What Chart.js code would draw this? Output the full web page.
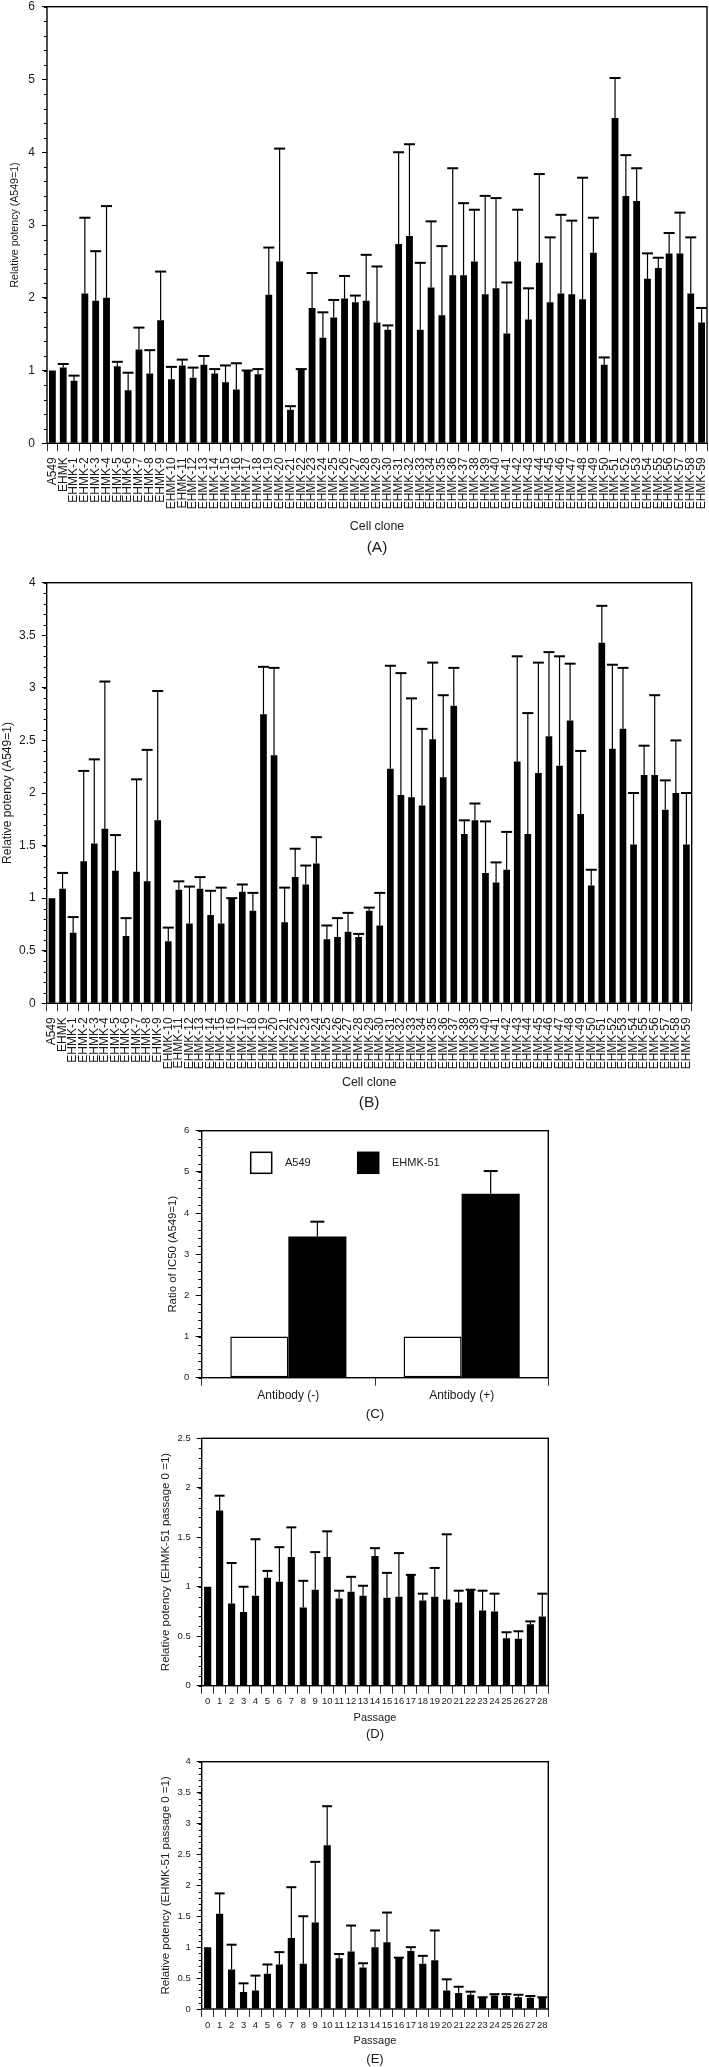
<!DOCTYPE html>
<html>
<head>
<meta charset="utf-8">
<script src="https://cdn.jsdelivr.net/npm/chart.js@4.4.1/dist/chart.umd.min.js"></script>
<style>
  body { margin: 0; background: #fff; }
  #page { position: relative; width: 709px; height: 2067px; overflow: hidden; }
  canvas { position: absolute; left: 0; }
</style>
</head>
<body>
<div id="page">
  <canvas id="chartA" width="709" height="560" style="top:0px"></canvas>
  <canvas id="chartB" width="709" height="555" style="top:560px"></canvas>
  <canvas id="chartC" width="709" height="310" style="top:1115px"></canvas>
  <canvas id="chartD" width="709" height="318" style="top:1425px"></canvas>
  <canvas id="chartE" width="709" height="324" style="top:1743px"></canvas>
</div>
<script>
// ---- data ----
const cloneLabels = ['A549', 'EHMK', ...Array.from({ length: 59 }, (_, i) => 'EHMK-' + (i + 1))];
const passageLabels = Array.from({ length: 29 }, (_, i) => String(i));

// (A) relative potency, mean and top of error bar
const aValues = [
  1.00, 1.04, 0.86, 2.06, 1.96, 2.00, 1.06, 0.73, 1.29, 0.96,
  1.69, 0.88, 1.07, 0.90, 1.08, 0.96, 0.84, 0.74, 1.00, 0.95,
  2.04, 2.50, 0.46, 1.02, 1.86, 1.45, 1.73, 1.99, 1.94, 1.96,
  1.66, 1.56, 2.74, 2.85, 1.56, 2.14, 1.76, 2.31, 2.31, 2.50,
  2.05, 2.13, 1.51, 2.50, 1.70, 2.48, 1.94, 2.06, 2.05, 1.98,
  2.62, 1.08, 4.47, 3.40, 3.33, 2.26, 2.41, 2.61, 2.61, 2.06,
  1.66
];
const aUpper = [
  null, 1.09, 0.93, 3.10, 2.64, 3.26, 1.12, 0.97, 1.59, 1.28,
  2.36, 1.05, 1.15, 1.04, 1.20, 1.02, 1.07, 1.10, 1.00, 1.02,
  2.69, 4.05, 0.51, 1.02, 2.34, 1.80, 1.97, 2.30, 2.03, 2.59,
  2.43, 1.62, 4.00, 4.11, 2.48, 3.05, 2.71, 3.78, 3.30, 3.21,
  3.40, 3.37, 2.21, 3.21, 2.13, 3.70, 2.83, 3.14, 3.06, 3.65,
  3.10, 1.18, 5.02, 3.96, 3.78, 2.61, 2.55, 2.89, 3.17, 2.83,
  1.86
];

// (B)
const bValues = [
  1.00, 1.09, 0.67, 1.35, 1.52, 1.66, 1.26, 0.64, 1.25, 1.16,
  1.74, 0.59, 1.08, 0.76, 1.09, 0.84, 0.76, 1.00, 1.06, 0.88,
  2.75, 2.36, 0.77, 1.20, 1.13, 1.33, 0.61, 0.63, 0.68, 0.63,
  0.88, 0.74, 2.23, 1.98, 1.96, 1.88, 2.51, 2.15, 2.83, 1.61,
  1.74, 1.24, 1.15, 1.27, 2.30, 1.61, 2.19, 2.54, 2.26, 2.69,
  1.80, 1.12, 3.43, 2.42, 2.61, 1.51, 2.17, 2.17, 1.84, 2.00,
  1.51
];
const bUpper = [
  null, 1.24, 0.82, 2.21, 2.32, 3.06, 1.60, 0.81, 2.13, 2.41,
  2.97, 0.72, 1.16, 1.11, 1.20, 1.07, 1.10, 1.00, 1.13, 1.05,
  3.20, 3.19, 1.10, 1.47, 1.31, 1.58, 0.74, 0.81, 0.86, 0.66,
  0.91, 1.05, 3.21, 3.14, 2.90, 2.61, 3.24, 2.93, 3.19, 1.74,
  1.90, 1.73, 1.34, 1.63, 3.30, 2.76, 3.24, 3.34, 3.30, 3.23,
  2.40, 1.27, 3.78, 3.22, 3.19, 2.00, 2.45, 2.93, 2.12, 2.50,
  2.00
];

// (C)
const cCategories = ['Antibody (-)', 'Antibody (+)'];
const cA549 = [1, 1];
const cEHMK51 = [3.43, 4.47];
const cEHMK51Upper = [3.79, 5.02];

// (D)
const dValues = [
  1.00, 1.77, 0.83, 0.745, 0.91, 1.09, 1.05, 1.30, 0.79, 0.97,
  1.30, 0.88, 0.95, 0.91, 1.31, 0.89, 0.90, 1.12, 0.86, 0.90,
  0.87, 0.84, 0.97, 0.76, 0.75, 0.48, 0.475, 0.62, 0.70
];
const dUpper = [
  null, 1.92, 1.24, 1.00, 1.48, 1.16, 1.40, 1.60, 1.06, 1.35,
  1.56, 0.96, 1.10, 1.01, 1.39, 1.14, 1.34, 1.12, 0.93, 1.19,
  1.53, 0.96, 0.97, 0.96, 0.93, 0.54, 0.55, 0.65, 0.93
];

// (E)
const eValues = [
  1.00, 1.54, 0.64, 0.275, 0.30, 0.57, 0.72, 1.15, 0.73, 1.40,
  2.65, 0.82, 0.93, 0.67, 1.00, 1.08, 0.83, 0.94, 0.73, 0.79,
  0.30, 0.26, 0.23, 0.18, 0.22, 0.21, 0.19, 0.18, 0.19
];
const eUpper = [
  null, 1.87, 1.04, 0.415, 0.54, 0.72, 0.92, 1.97, 1.50, 2.38,
  3.28, 0.89, 1.35, 0.74, 1.27, 1.56, 0.83, 1.00, 0.86, 1.27,
  0.48, 0.36, 0.28, 0.19, 0.24, 0.24, 0.23, 0.21, 0.19
];

// ---- fonts ----
const SANS = "'Liberation Sans', Arial, Helvetica, sans-serif";
const INK = '#1a1a1a';

Chart.defaults.font.family = SANS;
Chart.defaults.color = INK;

// ---- plugins ----
const minorTicks = {
  id: 'minorTicks',
  afterDraw(chart, args, opts) {
    if (!opts.step) return;
    const y = chart.scales.y;
    const ctx = chart.ctx;
    ctx.save();
    ctx.strokeStyle = '#000';
    ctx.lineWidth = 1;
    const n = Math.round((y.max - y.min) / opts.step);
    for (let k = 0; k <= n; k++) {
      const py = Math.round(y.getPixelForValue(y.min + k * opts.step)) + 0.5;
      ctx.beginPath();
      ctx.moveTo(y.right - opts.length, py);
      ctx.lineTo(y.right, py);
      ctx.stroke();
    }
    ctx.restore();
  }
};

const errorBars = {
  id: 'errorBars',
  afterDatasetsDraw(chart, args, opts) {
    const ctx = chart.ctx;
    chart.data.datasets.forEach((ds, di) => {
      if (!ds.upper) return;
      const meta = chart.getDatasetMeta(di);
      const yScale = chart.scales[meta.yAxisID];
      ctx.save();
      ctx.strokeStyle = '#000';
      meta.data.forEach((bar, i) => {
        const hi = ds.upper[i];
        if (hi == null) return;
        const yTop = yScale.getPixelForValue(ds.data[i]);
        const yHi = yScale.getPixelForValue(hi);
        if (hi > ds.data[i]) {
          ctx.lineWidth = opts.lineWidth;
          ctx.beginPath();
          ctx.moveTo(bar.x, yTop);
          ctx.lineTo(bar.x, yHi);
          ctx.stroke();
        }
        ctx.lineWidth = opts.capLineWidth;
        ctx.beginPath();
        ctx.moveTo(bar.x - opts.capWidth / 2, yHi);
        ctx.lineTo(bar.x + opts.capWidth / 2, yHi);
        ctx.stroke();
      });
      ctx.restore();
    });
  }
};

const frame = {
  id: 'frame',
  afterDatasetsDraw(chart, args, opts) {
    const { ctx, chartArea: a } = chart;
    ctx.save();
    ctx.strokeStyle = '#000';
    ctx.lineWidth = opts.lineWidth || 1.4;
    ctx.strokeRect(a.left, a.top, a.right - a.left, a.bottom - a.top);
    ctx.restore();
  }
};

const panelLabel = {
  id: 'panelLabel',
  afterDraw(chart, args, opts) {
    if (!opts.text) return;
    const { ctx, chartArea: a } = chart;
    ctx.save();
    ctx.font = opts.font;
    ctx.fillStyle = INK;
    ctx.textAlign = 'center';
    ctx.textBaseline = 'middle';
    ctx.fillText(opts.text, (a.left + a.right) / 2, chart.height - opts.fromBottom);
    ctx.restore();
  }
};

// legend drawn inside the plot area, as in panel C
const insideLegend = {
  id: 'insideLegend',
  afterDraw(chart, args, opts) {
    const { ctx, chartArea: a } = chart;
    ctx.save();
    ctx.font = opts.font;
    ctx.textBaseline = 'middle';
    chart.data.datasets.forEach((ds, i) => {
      const x = a.left + opts.offsets[i];
      const y = a.top + opts.top;
      ctx.fillStyle = ds.backgroundColor;
      ctx.fillRect(x, y, opts.boxWidth, opts.boxHeight);
      ctx.strokeStyle = '#000';
      ctx.lineWidth = 1.5;
      ctx.strokeRect(x, y, opts.boxWidth, opts.boxHeight);
      ctx.fillStyle = INK;
      ctx.fillText(ds.label, x + opts.boxWidth + opts.gap, y + opts.boxHeight / 2);
    });
    ctx.restore();
  }
};

// ---- panel builder ----
function drawPanel(canvasId, p) {
  return new Chart(document.getElementById(canvasId), {
    type: 'bar',
    data: { labels: p.labels, datasets: p.datasets },
    plugins: [minorTicks, errorBars, frame, panelLabel].concat(p.plugins || []),
    options: {
      responsive: false,
      animation: false,
      events: [],
      layout: { padding: { top: p.top, right: p.right, bottom: 0, left: 0 } },
      plugins: {
        legend: { display: false },
        tooltip: { enabled: false },
        minorTicks: { step: p.minorStep, length: p.minorLen || 3 },
        errorBars: { capWidth: p.capWidth, lineWidth: 1.2, capLineWidth: 2 },
        frame: { lineWidth: 1.4 },
        panelLabel: { text: p.panel, font: p.panelFont, fromBottom: p.panelFromBottom },
        insideLegend: p.legend || {}
      },
      scales: {
        x: {
          offset: true,
          grid: { display: true, drawOnChartArea: false, offset: true, tickLength: 8, color: '#333', lineWidth: 1 },
          border: { display: false },
          ticks: {
            autoSkip: false,
            minRotation: p.xRotation,
            maxRotation: p.xRotation,
            padding: p.xTickPad,
            font: p.xTickFont,
            color: INK
          },
          title: {
            display: !!p.xTitle,
            text: p.xTitle,
            font: p.xTitleFont,
            color: INK,
            padding: { top: 0, bottom: p.xTitlePad }
          },
          afterFit: s => { s.height = p.xHeight; s.paddingLeft = 0; s.paddingRight = 0; }
        },
        y: {
          min: 0,
          max: p.yMax,
          ticks: {
            stepSize: p.yStep,
            padding: p.yTickPad,
            font: p.yTickFont,
            color: INK,
            callback: v => String(+v.toFixed(2))
          },
          grid: { drawOnChartArea: false, tickLength: p.yTickLen || 5, color: '#000', lineWidth: 1 },
          border: { display: false },
          title: {
            display: true,
            text: p.yTitle,
            font: p.yTitleFont,
            color: INK,
            padding: { top: p.yTitlePad, bottom: 0 }
          },
          afterFit: s => { s.width = p.yWidth; s.paddingTop = 0; s.paddingBottom = 0; }
        }
      }
    }
  });
}

function blackBars(values, upper, pct) {
  return [{
    data: values,
    upper: upper,
    backgroundColor: '#000',
    borderWidth: 0,
    barPercentage: pct,
    categoryPercentage: 1.0
  }];
}

// (A)
drawPanel('chartA', {
  labels: cloneLabels,
  datasets: blackBars(aValues, aUpper, 0.63),
  top: 6.7, right: 2, yWidth: 47, xHeight: 116.7,
  yMax: 6, yStep: 1, minorStep: 0.2, capWidth: 11,
  xRotation: 90, xTickPad: 6, xTickFont: { size: 12 },
  xTitle: 'Cell clone', xTitleFont: { size: 12.4 }, xTitlePad: 25.5,
  yTickPad: 7, yTickFont: { size: 12 },
  yTitle: 'Relative potency (A549=1)', yTitleFont: { size: 10.6 }, yTitlePad: 9,
  panel: '(A)', panelFont: '15.5px ' + SANS, panelFromBottom: 12
});

// (B)
drawPanel('chartB', {
  labels: cloneLabels,
  datasets: blackBars(bValues, bUpper, 0.63),
  top: 22.7, right: 17.3, yWidth: 46.7, xHeight: 111.7,
  yMax: 4, yStep: 0.5, minorStep: 0.1, capWidth: 11,
  xRotation: 90, xTickPad: 6, xTickFont: { size: 12 },
  xTitle: 'Cell clone', xTitleFont: { size: 12.4 }, xTitlePad: 24.5,
  yTickPad: 6, yTickFont: { size: 12 },
  yTitle: 'Relative potency (A549=1)', yTitleFont: { size: 12 }, yTitlePad: 0.8,
  panel: '(B)', panelFont: '15.5px ' + SANS, panelFromBottom: 12
});

// (C)
drawPanel('chartC', {
  labels: cCategories,
  datasets: [
    {
      label: 'A549', data: cA549, upper: null,
      backgroundColor: '#fff', borderColor: '#000', borderWidth: 1.5, borderSkipped: false,
      barPercentage: 1.0, categoryPercentage: 0.67
    },
    {
      label: 'EHMK-51', data: cEHMK51, upper: cEHMK51Upper,
      backgroundColor: '#000', borderWidth: 0,
      barPercentage: 1.0, categoryPercentage: 0.67
    }
  ],
  plugins: [insideLegend],
  legend: { font: '11px ' + SANS, offsets: [49, 156], top: 21.6, boxWidth: 21, boxHeight: 21, gap: 13.3 },
  top: 15.7, right: 160.7, yWidth: 201.7, xHeight: 47.3,
  yMax: 6, yStep: 1, minorStep: 0.2, minorLen: 3.5, yTickLen: 6, capWidth: 14,
  xRotation: 0, xTickPad: 3.1, xTickFont: { size: 12 },
  xTitle: '', xTitleFont: { size: 11 }, xTitlePad: 0,
  yTickPad: 6.4, yTickFont: { size: 9.5 },
  yTitle: 'Ratio of IC50 (A549=1)', yTitleFont: { size: 11.4 }, yTitlePad: 166.5,
  panel: '(C)', panelFont: '13.5px ' + SANS, panelFromBottom: 10.7
});

// (D)
drawPanel('chartD', {
  labels: passageLabels,
  datasets: blackBars(dValues, dUpper, 0.6),
  top: 13.3, right: 160.7, yWidth: 201.7, xHeight: 57.3,
  yMax: 2.5, yStep: 0.5, minorStep: 0.1, capWidth: 10,
  xRotation: 0, xTickPad: 2.3, xTickFont: { size: 9.5 },
  xTitle: 'Passage', xTitleFont: { size: 11 }, xTitlePad: 18.7,
  yTickPad: 6, yTickFont: { size: 9.5 },
  yTitle: 'Relative potency (EHMK-51 passage 0 =1)', yTitleFont: { size: 11.5 }, yTitlePad: 158.8,
  panel: '(D)', panelFont: '13px ' + SANS, panelFromBottom: 8.7
});

// (E)
drawPanel('chartE', {
  labels: passageLabels,
  datasets: blackBars(eValues, eUpper, 0.6),
  top: 18.7, right: 160.7, yWidth: 201.7, xHeight: 58,
  yMax: 4, yStep: 0.5, minorStep: 0.1, capWidth: 10,
  xRotation: 0, xTickPad: 2.3, xTickFont: { size: 9.5 },
  xTitle: 'Passage', xTitleFont: { size: 11 }, xTitlePad: 19.4,
  yTickPad: 6, yTickFont: { size: 9.5 },
  yTitle: 'Relative potency (EHMK-51 passage 0 =1)', yTitleFont: { size: 11.5 }, yTitlePad: 158.8,
  panel: '(E)', panelFont: '13px ' + SANS, panelFromBottom: 7.7
});
</script>
</body>
</html>
